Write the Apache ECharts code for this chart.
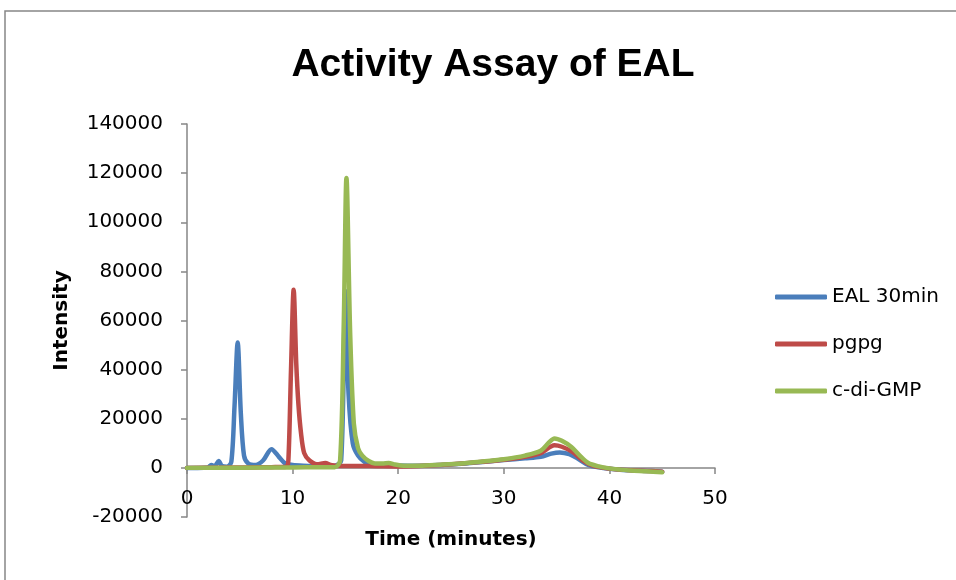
<!DOCTYPE html>
<html>
<head>
<meta charset="utf-8">
<title>Activity Assay of EAL</title>
<script src="https://cdn.jsdelivr.net/npm/echarts@6/dist/echarts.min.js"></script>
<style>
  html, body { margin: 0; padding: 0; background: #ffffff; }
  #chart { width: 956px; height: 580px; }
</style>
</head>
<body>
<div id="chart"></div>
<script>
// Chromatogram traces: retention time (minutes) and detector intensity
const seriesNames = ['EAL 30min', 'pgpg', 'c-di-GMP'];

const eal30Time = [0, 1, 2, 2.3, 2.6, 3.0, 3.3, 3.8, 4.2, 4.5, 4.8, 5.1, 5.4, 5.8, 6.5, 7.2, 8.0, 8.7, 9.3, 10, 11, 12, 13, 14, 14.6, 15.0, 15.3, 15.7, 16.2, 16.8, 17.5, 18.5, 19.5, 20, 22, 24, 26, 28, 30, 32, 33.5, 34.5, 35.3, 36.2, 37, 38, 39, 40, 41, 42, 43, 44, 45];
const eal30Vals = [0, 0, 200, 1200, 600, 2800, 800, 500, 2500, 25000, 51000, 22000, 5000, 1800, 1200, 3000, 7600, 4500, 1800, 1200, 900, 800, 800, 900, 3000, 72000, 30000, 10000, 5000, 2500, 1500, 1300, 1200, 1000, 900, 1200, 1700, 2400, 3200, 3900, 4500, 5800, 6300, 5600, 3800, 1200, 200, -400, -800, -1000, -1200, -1300, -1600];

const pgpgTime = [0, 3, 6, 8, 9.4, 9.6, 9.85, 10.1, 10.35, 10.55, 10.8, 11.1, 11.6, 12.3, 13.1, 13.6, 14.5, 16, 18, 20, 22, 24, 26, 28, 30, 32, 33.5, 34.8, 35.5, 36.5, 37.5, 38.5, 40, 42, 44, 45];
const pgpgVals = [0, 100, 200, 300, 500, 3000, 40000, 72500, 42000, 26000, 14000, 6000, 3000, 1500, 2000, 1200, 800, 800, 700, 600, 800, 1200, 1800, 2500, 3300, 4500, 6000, 9200, 8600, 6500, 3000, 800, -300, -1000, -1300, -1600];

const cdiGmpTime = [0, 5, 10, 14, 14.5, 14.85, 15.1, 15.45, 15.8, 16.2, 16.6, 17.2, 17.8, 18.5, 19.1, 19.7, 20.5, 22, 24, 26, 28, 30, 32, 33.5, 34.3, 34.8, 35.5, 36.4, 37.2, 38, 39, 40, 41, 42, 43.5, 45];
const cdiGmpVals = [0, 100, 200, 300, 3000, 60000, 118000, 55000, 18000, 8000, 5000, 2800, 1800, 1800, 2000, 1400, 900, 900, 1300, 1800, 2600, 3500, 5000, 7000, 10500, 12000, 11000, 8500, 5000, 2000, 600, -200, -700, -1100, -1400, -1800];

const seriesColors = ['#4a7ebb', '#be4b48', '#98b954'];

function pairs(times, vals) {
  return times.map((t, i) => [t, vals[i]]);
}

const traces = [
  pairs(eal30Time, eal30Vals),
  pairs(pgpgTime, pgpgVals),
  pairs(cdiGmpTime, cdiGmpVals)
];

const axisGrey = '#868686';
const labelFont = 'DejaVu Sans';

const chart = echarts.init(document.getElementById('chart'), null, { renderer: 'canvas' });

chart.setOption({
  animation: false,
  backgroundColor: '#ffffff',
  graphic: [{
    type: 'rect',
    shape: { x: 5, y: 11, width: 1000, height: 1000 },
    style: { fill: 'none', stroke: axisGrey, lineWidth: 1.5 },
    silent: true,
    z: -1
  }],
  title: {
    text: 'Activity Assay of EAL',
    left: 488,
    textAlign: 'center',
    top: 41,
    textStyle: {
      fontFamily: 'Liberation Sans',
      fontWeight: 'bold',
      fontSize: 39,
      color: '#000000'
    }
  },
  legend: {
    orient: 'vertical',
    left: 770,
    top: 282,
    itemWidth: 52,
    itemHeight: 5,
    itemGap: 27,
    icon: 'roundRect',
    data: seriesNames,
    textStyle: { fontFamily: labelFont, fontSize: 20, color: '#000000' }
  },
  grid: { left: 187, right: 241, top: 124, bottom: 63, containLabel: false, outerBoundsMode: 'none' },
  xAxis: {
    type: 'value',
    min: 0,
    max: 50,
    interval: 10,
    name: 'Time (minutes)',
    nameLocation: 'middle',
    nameGap: 13,
    nameTextStyle: { fontFamily: labelFont, fontWeight: 'bold', fontSize: 20, color: '#000000' },
    axisLine: { show: true, onZero: true, lineStyle: { color: axisGrey, width: 1.5 } },
    axisTick: { show: true, inside: false, length: 6, lineStyle: { color: axisGrey, width: 1.5 } },
    axisLabel: { margin: -28, fontFamily: labelFont, fontSize: 20, color: '#000000' },
    splitLine: { show: false }
  },
  yAxis: {
    type: 'value',
    min: -20000,
    max: 140000,
    interval: 20000,
    name: 'Intensity',
    nameLocation: 'middle',
    nameGap: 115,
    nameRotate: 90,
    nameTextStyle: { fontFamily: labelFont, fontWeight: 'bold', fontSize: 20, color: '#000000' },
    axisLine: { show: true, onZero: false, lineStyle: { color: axisGrey, width: 1.5 } },
    axisTick: { show: true, inside: false, length: 6, lineStyle: { color: axisGrey, width: 1.5 } },
    axisLabel: {
      margin: 24,
      fontFamily: labelFont,
      fontSize: 20,
      color: '#000000',
      formatter: (v) => String(v)
    },
    splitLine: { show: false }
  },
  series: traces.map((data, i) => ({
    name: seriesNames[i],
    type: 'line',
    data: data,
    showSymbol: false,
    symbol: 'none',
    smooth: 0.3,
    color: seriesColors[i],
    lineStyle: { width: 4.5, color: seriesColors[i], cap: 'round', join: 'round' },
    z: 2 + i
  }))
});
</script>
</body>
</html>
